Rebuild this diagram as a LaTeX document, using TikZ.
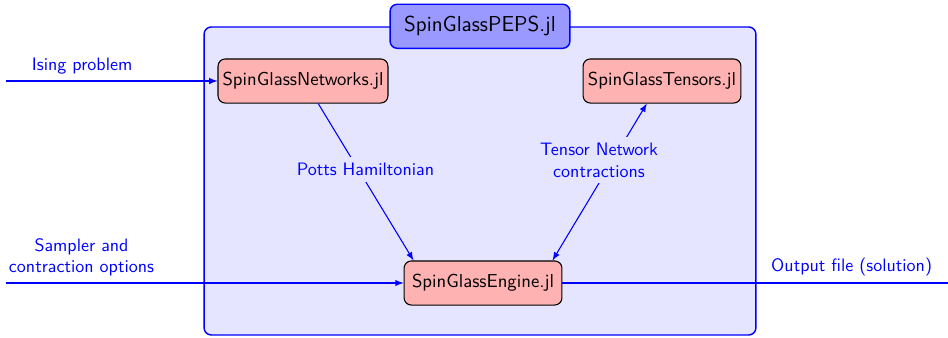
\documentclass[tikz,border=0pt]{standalone}
\usepackage{xcolor}
\usepackage{tikz}
\usetikzlibrary{arrows, positioning}
\renewcommand{\familydefault}{\sfdefault}

\begin{document}
\begin{tikzpicture}[>=latex]
            \tikzset{
                frame/.style={draw=blue, thick, shape = rectangle, rounded corners, fill=blue!10, minimum width=10.77cm, minimum height=6.01cm},
                title/.style={draw=blue, thick, shape = rectangle, rounded corners, fill=blue!40, minimum width=3.51cm, minimum height=0.86cm, font=\large},
                package/.style={draw, semithick, shape = rectangle, rounded corners, fill=red!30, minimum width=3.08cm, minimum height=0.86cm, inner xsep=2.5pt, font=\fontsize{10.4}{12}\selectfont},
                flow/.style={blue, semithick},
                flowlabel/.style={text=blue, fill=blue!10, align=center},
                iolabel/.style={text=blue, align=center}
            }
            \useasboundingbox (0,0) rectangle (18.5,6.596);

            \node[frame] (peps) at (9.367,3.064) {};
            \node[title] (pepsname) at (peps.north) {SpinGlassPEPS.jl};

            \node[package] (networks) at (5.913,5.015) {SpinGlassNetworks.jl};
            \node[package] (tensors) at (12.919,5.015) {SpinGlassTensors.jl};
            \node[package] (engine) at (9.426,1.073) {SpinGlassEngine.jl};

            \coordinate (isingin) at (0.117,5.015);
            \coordinate (optionsin) at (0.117,1.073);
            \coordinate (solutionout) at (18.5,1.073);

            % inputs and output
            \draw[flow, ->] (isingin) -- node[iolabel, above, pos=0.36] {Ising problem} (networks.west);
            \draw[flow, ->] (optionsin) -- node[iolabel, above, pos=0.19] {Sampler and\\contraction options} (engine.west);
            \draw[flow] (engine.east) -- node[iolabel, above, pos=0.75] {Output file (solution)} (solutionout);

            % inside the package
            \draw[flow, ->] (networks.-56) -- node[flowlabel, pos=0.42, xshift=0.14cm] {Potts Hamiltonian} (engine.162);
            \draw[flow, <->] (engine.18) -- node[flowlabel, pos=0.64, xshift=-0.27cm] {Tensor Network\\contractions} (tensors.-124);
        \end{tikzpicture}
\end{document}
